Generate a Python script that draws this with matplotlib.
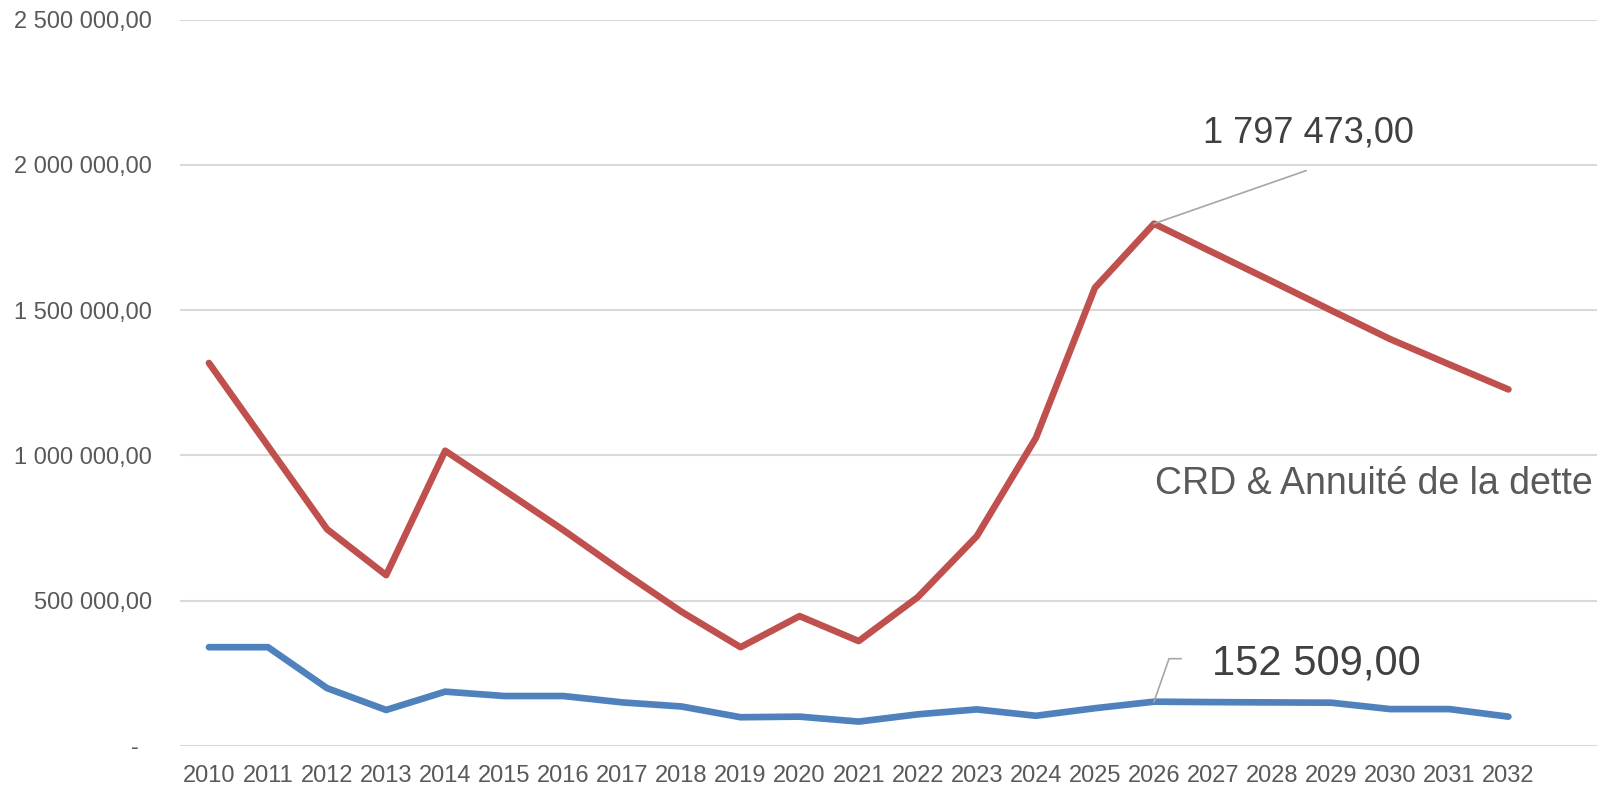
import matplotlib.pyplot as plt
from matplotlib.ticker import FuncFormatter, MultipleLocator
from matplotlib.lines import Line2D

plt.rcParams['font.family'] = ['Liberation Sans', 'DejaVu Sans']

years = [str(y) for y in range(2010, 2033)]
crd = [1318000, 1032000, 746000, 588000, 1016000, 880000, 743000, 600000, 462000,
       340000, 447000, 361000, 512000, 722000, 1060000, 1577000, 1797473, 1698000,
       1599000, 1499000, 1400000, 1313000, 1227000]
annuite = [340000, 340000, 199000, 124000, 187000, 172000, 172000, 150000, 136000,
           99000, 101000, 84000, 109000, 126000, 104000, 130000, 152509, 151000,
           150000, 149000, 127000, 127000, 101000]
peak_idx = 16
title = "CRD & Annuité de la dette"

RED = "#C0504D"
BLUE = "#4F81BD"
GRID = "#D9D9D9"
TXT = "#595959"
LBL = "#404040"
LEAD = "#A6A6A6"


def fr_fmt(v, pos):
    if abs(v) < 1e-6:
        return "-  "
    return f"{v:,.2f}".replace(",", " ").replace(".", ",")


fig = plt.figure(figsize=(16.06, 7.86), dpi=100)
ax = fig.add_axes([180 / 1606, 1 - 746 / 786, (1597 - 180) / 1606, (746 - 19.5) / 786])

x = list(range(len(years)))
ax.plot(x, crd, color=RED, lw=4.8, solid_capstyle='round', solid_joinstyle='round', zorder=3)
ax.plot(x, annuite, color=BLUE, lw=4.8, solid_capstyle='round', solid_joinstyle='round', zorder=3)

ax.set_xlim(-0.49, 23.5)
ax.set_ylim(0, 2500000)
ax.yaxis.set_major_locator(MultipleLocator(500000))
ax.yaxis.set_major_formatter(FuncFormatter(fr_fmt))
ax.set_xticks(x)
ax.set_xticklabels(years)
ax.grid(axis='y', color=GRID, lw=1.5, zorder=0)
ax.set_axisbelow(True)
for s in ax.spines.values():
    s.set_visible(False)
ax.tick_params(axis='y', length=0, pad=20, labelsize=17, labelcolor=TXT)
ax.tick_params(axis='x', length=0, pad=14, labelsize=17, labelcolor=TXT)

# data labels with leader lines (pixel offsets from the point)
fig.canvas.draw()
px, py = ax.transData.transform((peak_idx, crd[peak_idx]))
fig.add_artist(Line2D([px, px + 152], [py, py + 53], color=LEAD, lw=1.2, transform=None))
fig.text((px + 49) / 1606, (py + 81) / 786, fr_fmt(crd[peak_idx], None),
         fontsize=26, color=LBL, va='baseline', ha='left')

bx, by = ax.transData.transform((peak_idx, annuite[peak_idx]))
fig.add_artist(Line2D([bx, bx + 15, bx + 27], [by, by + 43, by + 43], color=LEAD, lw=1.2,
                      transform=None))
fig.text((bx + 58) / 1606, (by + 27) / 786, fr_fmt(annuite[peak_idx], None),
         fontsize=30, color=LBL, va='baseline', ha='left')

fig.text(1155 / 1606, 1 - 494 / 786, title, fontsize=27, color=TXT, va='baseline', ha='left')

fig.savefig("out.png", dpi=100)
